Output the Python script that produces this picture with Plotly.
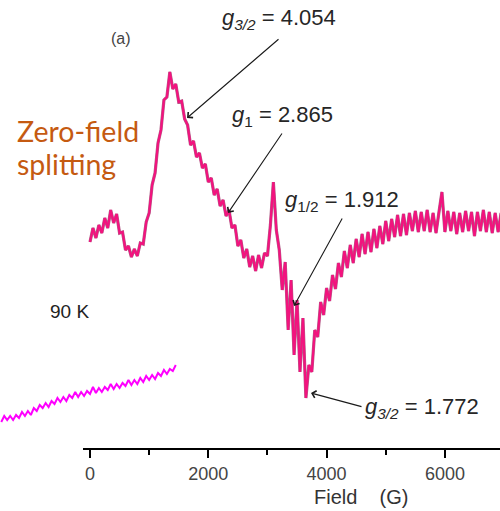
import plotly.graph_objects as go

# ---------------- data ----------------
# main EPR spectrum (field in G, intensity in arbitrary units)
field_main = [
    0, 50, 100, 150, 200, 250, 300, 350, 400, 450,
    500, 550, 600, 650, 700, 750, 800, 850, 900, 950,
    1000, 1050, 1100, 1150, 1200, 1250, 1300, 1350, 1400, 1450,
    1500, 1550, 1600, 1650, 1700, 1750, 1800, 1850, 1900, 1950,
    2000, 2050, 2100, 2150, 2200, 2250, 2300, 2350, 2400, 2450,
    2500, 2550, 2600, 2650, 2700, 2750, 2800, 2850, 2900, 2950,
    3000, 3050, 3100, 3150, 3200, 3250, 3300, 3350, 3400, 3450,
    3500, 3550, 3600, 3650, 3700, 3750, 3800, 3850, 3900, 3950,
    4000, 4050, 4100, 4150, 4200, 4250, 4300, 4350, 4400, 4450,
    4500, 4550, 4600, 4650, 4700, 4750, 4800, 4850, 4900, 4950,
    5000, 5050, 5100, 5150, 5200, 5250, 5300, 5350, 5400, 5450,
    5500, 5550, 5600, 5650, 5700, 5750, 5800, 5850, 5900, 5950,
    6000, 6050, 6100, 6150, 6200, 6250, 6300, 6350, 6400, 6450,
    6500, 6550, 6600, 6650, 6700, 6750, 6800, 6850, 6900, 6950,
]
signal_main = [
    207, 221, 211, 224, 216, 231, 221, 239, 226, 235,
    216, 217, 199, 203, 192, 200, 193, 206, 205, 227,
    236, 264, 276, 306, 319, 349, 352, 377, 360, 365,
    347, 348, 330, 324, 304, 308, 292, 296, 281, 285,
    267, 271, 254, 260, 243, 249, 233, 239, 221, 224,
    203, 209, 191, 200, 182, 193, 178, 194, 181, 196,
    193, 224, 267, 219, 199, 159, 187, 119, 169, 94,
    149, 77, 131, 51, 84, 77, 119, 112, 147, 134,
    161, 148, 174, 160, 186, 172, 198, 181, 204, 186,
    210, 192, 215, 195, 217, 197, 220, 201, 223, 205,
    228, 208, 230, 212, 234, 213, 235, 214, 236, 218,
    238, 217, 237, 218, 239, 217, 236, 216, 237, 257,
    217, 238, 218, 237, 215, 236, 217, 238, 218, 237,
    213, 237, 218, 239, 217, 237, 216, 236, 217, 236,
]

# baseline trace (90 K)
field_base = [
    -1500, -1450, -1400, -1350, -1300, -1250, -1200, -1150, -1100, -1050,
    -1000, -950, -900, -850, -800, -750, -700, -650, -600, -550,
    -500, -450, -400, -350, -300, -250, -200, -150, -100, -50,
    0, 50, 100, 150, 200, 250, 300, 350, 400, 450,
    500, 550, 600, 650, 700, 750, 800, 850, 900, 950,
    1000, 1050, 1100, 1150, 1200, 1250, 1300, 1350, 1400, 1450,
]
signal_base = [
    27, 33, 29, 33, 29, 34, 31, 37, 33, 38,
    34, 41, 38, 44, 41, 46, 42, 48, 45, 51,
    47, 52, 48, 54, 51, 57, 52, 57, 53, 58,
    55, 62, 56, 61, 57, 62, 59, 65, 60, 65,
    61, 66, 63, 69, 64, 69, 65, 71, 67, 73,
    69, 74, 70, 76, 73, 79, 75, 80, 78, 84,
]

tick_vals = [0, 2000, 4000, 6000]
tick_text = ["0", "2000", "4000", "6000"]
minor_vals = [1000, 3000, 5000]

# ---------------- figure ----------------
W, H = 500, 511
ML, MR, MT, MB = 0, 0, 0, 62
PW, PH = W - ML - MR, H - MT - MB


def px(x):
    return x / PW


def py(y):
    return 1 - y / PH


fig = go.Figure()
fig.add_trace(go.Scatter(x=field_main, y=signal_main, mode="lines",
                         line=dict(color="#B0648A", width=3.2), hoverinfo="skip"))
fig.add_trace(go.Scatter(x=field_main, y=signal_main, mode="lines",
                         line=dict(color="#F2137E", width=2.2)))
fig.add_trace(go.Scatter(x=field_base, y=signal_base, mode="lines",
                         line=dict(color="#FF00FF", width=2.0)))

txt = "#262626"
font_main = "Liberation Sans, Arial, sans-serif"
ann = []


def label(x, y, text, size, color=txt, family=font_main, xanchor="left"):
    ann.append(dict(x=px(x), y=py(y), xref="paper", yref="paper", text=text,
                    showarrow=False, xanchor=xanchor, yanchor="middle",
                    font=dict(size=size, color=color, family=family)))


def arrow(tail, tip):
    ann.append(dict(x=px(tip[0]), y=py(tip[1]), xref="paper", yref="paper",
                    ax=tail[0] - tip[0], ay=tail[1] - tip[1], text="",
                    showarrow=True, arrowhead=4, arrowsize=1.3, arrowwidth=1.1,
                    arrowcolor="#1a1a1a"))


label(109, 38, "(a)", 16, color="#444")
label(220, 19, "<i>g</i><sub><i>3/2</i></sub> = 4.054", 22)
label(230, 116, "<i>g</i><sub>1</sub> = 2.865", 22)
label(283, 201, "<i>g</i><sub>1/2</sub> = 1.912", 22)
label(363, 408, "<i>g</i><sub><i>3/2</i></sub> = 1.772", 22)
label(15, 131, "Zero-field", 28.5, color="#C55A11", family="Lato, sans-serif")
label(15, 164, "splitting", 28.5, color="#C55A11", family="Lato, sans-serif")
label(48, 311, "90 K", 19, color="#222")
label(361, 497, "Field&nbsp;&nbsp;&nbsp;&nbsp;(G)", 20, color="#333", xanchor="center")

arrow((280, 38), (187, 118))
arrow((283, 132), (228, 213))
arrow((343, 217), (294, 306))
arrow((363, 407), (311, 393))

fig.update_layout(
    width=W, height=H,
    margin=dict(l=ML, r=MR, t=MT, b=MB, pad=0),
    paper_bgcolor="white", plot_bgcolor="white",
    showlegend=False,
    annotations=ann,
    shapes=[dict(type="line", xref="paper", yref="paper", x0=px(83), x1=1.0,
                 y0=0, y1=0, line=dict(color="black", width=2))],
    xaxis=dict(range=[-90 * 16.906, 410 * 16.906], showgrid=False, zeroline=False,
               showline=False, ticks="outside", ticklen=8, tickwidth=2,
               tickcolor="black", tickvals=tick_vals, ticktext=tick_text,
               tickfont=dict(size=18, color="#444", family=font_main),
               minor=dict(tickvals=minor_vals, ticks="outside", ticklen=5,
                          tickwidth=2, tickcolor="black")),
    yaxis=dict(range=[0, PH], visible=False),
)

fig.write_html("out.html", config={"displayModeBar": False},
               post_script="document.body.style.margin='0px';document.body.style.overflow='hidden';")
